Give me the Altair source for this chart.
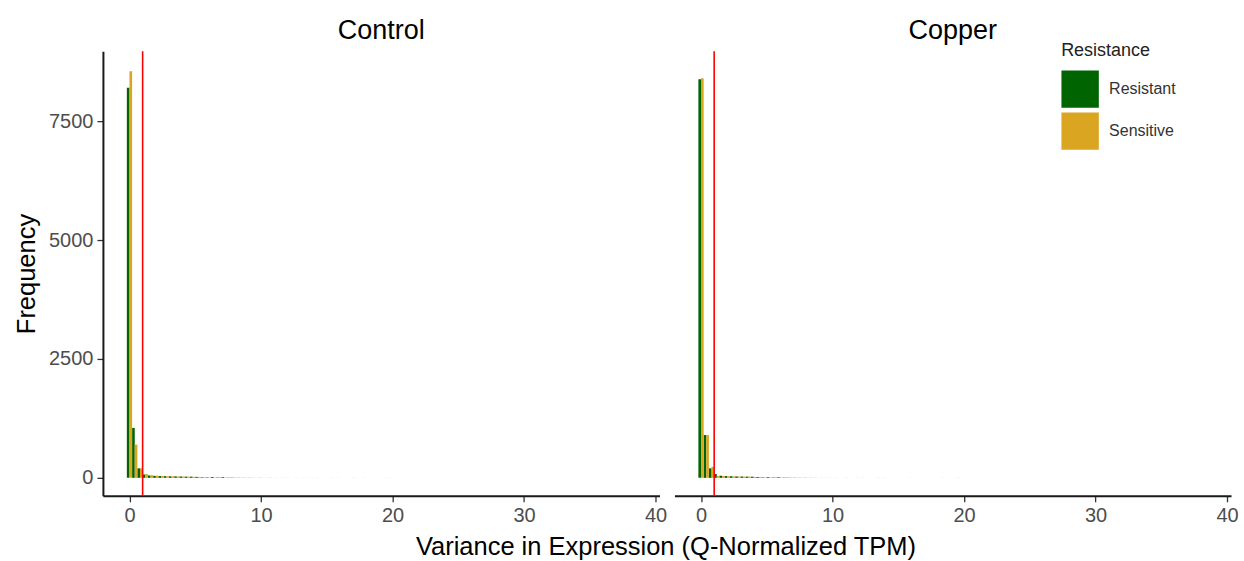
import altair as alt
import pandas as pd

PANELS = ["Control", "Copper"]
GROUPS = ["Resistant", "Sensitive"]
COLORS = ["#006400", "#DAA520"]
BIN_START = -0.2
BIN_WIDTH = 0.4
VLINE = 1
X_TICKS = [0, 10, 20, 30, 40]
Y_TICKS = [0, 2500, 5000, 7500]
X_TITLE = "Variance in Expression (Q-Normalized TPM)"
Y_TITLE = "Frequency"

# counts per 0.4-wide bin, first bin centred on 0
control_resistant = [8200, 1050, 200, 70, 50, 42, 38, 35, 32, 30, 28, 26, 24, 20, 12, 10, 18, 8, 16, 6,
                     5, 4, 3, 3, 2, 2, 1, 2, 1, 1, 1, 0, 1, 1, 0, 1, 1, 0, 0, 1,
                     1, 0, 0, 1, 0, 1, 0, 0, 0, 1]
control_sensitive = [8550, 700, 200, 80, 55, 45, 40, 36, 33, 30, 28, 25, 22, 18, 14, 10, 8, 14, 6, 12,
                     5, 4, 3, 3, 2, 2, 2, 1, 1, 1, 1, 1, 0, 1, 1, 0, 1, 0, 1, 0,
                     0, 1, 1, 0, 0, 0, 1, 0, 0, 1]
copper_resistant = [8380, 900, 200, 80, 45, 38, 34, 30, 28, 26, 24, 18, 10, 16, 8, 14, 6, 5, 4, 3,
                    3, 2, 2, 1, 1, 1, 1, 0, 1, 0, 1, 1, 0, 0, 1, 1, 0, 0, 0, 0,
                    1, 0, 0, 0, 1, 0, 1, 0, 0, 1]
copper_sensitive = [8400, 900, 230, 40, 40, 34, 30, 28, 26, 24, 20, 16, 12, 10, 14, 8, 12, 5, 4, 3,
                    2, 2, 1, 1, 1, 1, 1, 1, 0, 1, 1, 0, 0, 1, 0, 1, 0, 1, 0, 0,
                    0, 1, 0, 0, 0, 0, 1, 1, 0, 1]

SERIES = {
    "Control": [control_resistant, control_sensitive],
    "Copper": [copper_resistant, copper_sensitive],
}

rows = []
for panel in PANELS:
    for g_idx, group in enumerate(GROUPS):
        for i, c in enumerate(SERIES[panel][g_idx]):
            if c <= 0:
                continue
            lo = BIN_START + i * BIN_WIDTH
            half = BIN_WIDTH / 2
            rows.append(dict(panel=panel, group=group,
                             x0=lo + g_idx * half, x1=lo + (g_idx + 1) * half, count=c))
df = pd.DataFrame(rows)
vline_df = pd.DataFrame({"v": [VLINE]})

FONT = "Liberation Sans"
xscale = alt.Scale(domain=[-2.02, 40.3], nice=False, zero=False)
yscale = alt.Scale(domain=[-378, 8970], nice=False, zero=False)


def make_panel(name, first):
    d = df[df.panel == name]
    xaxis = alt.Axis(values=X_TICKS, title=X_TITLE if first else None,
                     titleX=563, titleAlign="center", titleAnchor="start")
    yaxis = alt.Axis(values=Y_TICKS, title=Y_TITLE, format="d") if first else None
    bars = alt.Chart(d).mark_bar().encode(
        x=alt.X("x0:Q", scale=xscale, axis=xaxis),
        x2="x1:Q",
        y=alt.Y("count:Q", scale=yscale, axis=yaxis),
        y2=alt.datum(0),
        color=alt.Color("group:N", scale=alt.Scale(domain=GROUPS, range=COLORS),
                        legend=alt.Legend(title="Resistance", orient="none",
                                          legendX=959, legendY=-9)),
    )
    rule = alt.Chart(vline_df).mark_rule(color="red", strokeWidth=1.6).encode(
        x=alt.X("v:Q", scale=xscale, axis=xaxis),
    )
    return alt.layer(bars, rule).properties(
        width=557, height=445,
        title=alt.TitleParams(name, fontSize=27, fontWeight="normal", font=FONT,
                              anchor="middle", color="#000000", offset=5),
    )


chart = alt.hconcat(make_panel("Control", True), make_panel("Copper", False), spacing=15,
                    bounds="flush").resolve_scale(
    x="independent", y="independent", color="shared"
).properties(
    padding={"left": 14, "top": 17, "right": 5, "bottom": 0},
    background="white",
).configure_view(stroke=None).configure_axis(
    grid=False, domainColor="#1a1a1a", domainWidth=2, tickColor="#333333", tickWidth=1.3,
    tickSize=6, labelFont=FONT, labelFontSize=20, labelColor="#4D4D4D", labelPadding=4,
    titleFont=FONT, titleFontSize=25.5, titleFontWeight="normal", titleColor="#000000",
    titlePadding=9,
).configure_legend(
    titleFont=FONT, titleFontSize=18, titleFontWeight="normal", titleColor="#222222",
    labelFont=FONT, labelFontSize=16, labelColor="#333333", symbolType="square",
    symbolSize=1400, symbolStrokeWidth=0, symbolOpacity=1, rowPadding=4, labelOffset=10,
    titlePadding=10,
)

chart.save("out.html", embed_options={"renderer": "svg", "actions": False})
